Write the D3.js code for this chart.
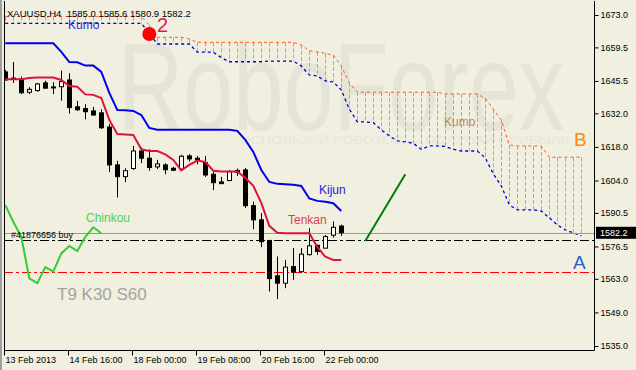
<!DOCTYPE html>
<html><head><meta charset="utf-8">
<script src="https://cdn.jsdelivr.net/npm/d3@7"></script>
<style>html,body{margin:0;padding:0;background:#f0efe0;} svg{display:block}</style>
</head><body><svg id="c" width="636" height="370"></svg>
<script>
// ---------- data ----------
const yTickValues = [1673.0,1659.5,1645.5,1632.0,1618.0,1604.0,1590.5,1576.5,1563.0,1549.0,1535.0];
const xTickIndex = [0,8,16,24,32,40];
const xTickLabels = ["13 Feb 2013","14 Feb 16:00","18 Feb 00:00","19 Feb 08:00","20 Feb 16:00","22 Feb 00:00"];

const open  = [1649.25,1646.7,1646.3,1640.8,1641.5,1644.7,1643.0,1643.1,1645.9,1634.7,1634.0,1633.0,1632.2,1626.3,1610.5,1605.6,1609.0,1616.3,1613.3,1609.7,1610.5,1609.1,1608.8,1614.25,1613.3,1611.5,1606.6,1603.4,1604.0,1608.2,1608.4,1593.5,1587.6,1579.0,1564.25,1561.2,1568.1,1566.0,1573.1,1577.0,1575.8,1581.2,1585.0];
const high  = [1650.1,1653.4,1647.3,1642.9,1644.7,1645.6,1645.0,1649.8,1648.7,1637.2,1635.8,1634.7,1633.7,1627.6,1612.2,1609.1,1618.4,1617.7,1617.0,1612.6,1611.2,1609.7,1614.7,1615.0,1614.25,1614.25,1607.7,1605.5,1608.4,1609.0,1609.25,1595.2,1590.4,1579.25,1572.3,1570.9,1575.8,1575.8,1584.1,1577.2,1581.3,1586.9,1585.6];
const low   = [1645.7,1644.7,1640.0,1640.0,1641.0,1642.3,1640.0,1637.3,1631.9,1633.0,1629.5,1631.0,1625.5,1607.5,1596.9,1603.3,1608.4,1611.2,1608.1,1608.8,1606.6,1607.9,1608.5,1611.9,1610.8,1605.5,1600.0,1602.5,1603.7,1605.9,1592.5,1583.7,1576.2,1557.7,1554.5,1559.1,1562.6,1565.4,1572.7,1573.0,1575.7,1580.2,1580.9];
const close = [1645.9,1646.5,1640.6,1642.0,1644.25,1642.5,1642.8,1645.2,1634.4,1633.5,1632.7,1631.3,1626.0,1610.5,1605.6,1608.1,1616.3,1613.3,1609.4,1610.9,1608.5,1608.3,1614.1,1613.0,1612.5,1606.3,1603.1,1602.7,1607.7,1607.4,1593.5,1587.6,1578.5,1563.1,1561.2,1567.9,1565.8,1573.3,1576.75,1574.4,1580.6,1584.5,1582.2];

const tenkan = [1646.2,1646.2,1646.2,1646.75,1646.9,1646.9,1646.9,1645.9,1643.4,1643.1,1639.9,1639.7,1638.4,1629.25,1623.4,1623.2,1623.0,1617.0,1616.3,1616.3,1614.9,1612.6,1608.2,1610.5,1612.3,1611.75,1608.1,1607.8,1607.8,1607.8,1605.1,1601.75,1594.7,1585.1,1582.2,1582.0,1582.0,1582.0,1582.0,1576.3,1572.2,1570.9,1570.9];
const kijun  = [1661.2,1661.2,1661.2,1661.2,1661.2,1661.2,1661.2,1657.6,1653.4,1653.3,1651.9,1651.9,1649.25,1640.5,1633.4,1633.3,1633.0,1631.3,1625.9,1625.2,1625.2,1625.2,1625.2,1625.2,1625.2,1625.2,1625.2,1625.2,1625.2,1624.7,1620.9,1615.9,1608.4,1603.4,1602.6,1602.4,1602.2,1601.75,1596.5,1595.5,1595.1,1594.5,1591.3];
const chinkou = [1593.75,1586.8,1580.5,1563.2,1561.2,1567.9,1566.0,1573.6,1576.7,1574.6,1580.5,1584.5,1582.0];

const spanUpper = [1672.4,1672.4,1672.4,1672.4,1672.4,1672.4,1672.4,1672.4,1672.4,1672.4,1672.4,1672.4,1672.4,1672.4,1672.4,1672.4,1672.4,1672.4,
  1668.8,1663.7,1663.7,1663.7,1663.7,1663.0,
  1661.6,1661.6,1661.6,1661.6,1661.6,1661.6,1661.6,1661.6,1661.6,1661.6,1661.6,1661.6,1661.6,
  1660.5,1658.1,1657.6,1657.0,1656.3,1651.75,1644.7,
  1640.8,1640.8,1640.8,1640.8,1640.8,1640.8,1640.8,1640.8,1640.8,1640.8,1640.8,
  1640.1,1640.1,1640.1,1640.1,1640.1,
  1638.2,1633.7,1629.25,1618.8,
  1618.4,1618.4,1618.4,1618.4,
  1613.7,1613.7,1613.7,1613.7,1613.7];
const spanLower = [1669.5,1669.5,1669.5,1669.5,1669.5,1669.5,1669.5,1669.5,1669.5,1669.5,1669.5,1669.5,1669.5,1669.5,1669.5,1669.5,1669.5,1669.5,
  1665.5,1660.9,1660.9,1660.9,1660.9,1660.9,
  1657.5,1657.5,1657.5,1655.2,
  1653.5,1653.5,1653.5,1653.5,1653.5,1653.8,1653.8,1653.8,1653.8,
  1651.75,1648.0,1647.6,1645.5,1645.1,1641.75,1633.8,1628.5,1628.4,1628.1,1625.1,1622.6,1620.5,1620.1,1619.5,1617.0,1618.4,1618.4,1618.2,1617.0,1616.3,1616.3,1616.3,1613.4,1606.75,1601.75,1593.8,1591.75,1591.75,1591.75,1591.3,1588.4,1585.5,1583.4,1582.2,1580.9];

const bidPrice = 1582.2;
const orderPrice = 1579.25;
const stopPrice = 1566.0;
const trendLine = [[45, 1578.8],[50, 1606.6]];
const markerPoint = [18, 1665.1];
const header = "XAUUSD,H4  1585.0 1585.6 1580.9 1582.2";

// ---------- layout ----------
const svg = d3.select("#c");
const P = {l:4, r:594, t:1, b:350};
const x = d3.scaleLinear().domain([0,72]).range([5.3, 5.3+8*72]);
const y = d3.scaleLinear().domain([1535,1673]).range([346,15]);
const BG = "#f0efe0";
svg.append("rect").attr("width",636).attr("height",370).attr("fill",BG);

svg.append("defs").append("clipPath").attr("id","clip")
  .append("rect").attr("x",P.l+1).attr("y",P.t+1).attr("width",P.r-P.l-1).attr("height",P.b-P.t-1);
const g = svg.append("g").attr("clip-path","url(#clip)");

// watermark
g.append("text").attr("x",118).attr("y",130).attr("font-family","Liberation Sans, Arial, sans-serif")
  .attr("font-size",125).attr("fill","#e4e4d7")
  .attr("textLength",446).attr("lengthAdjust","spacingAndGlyphs").text("RoboForex");
g.append("text").attr("x",240).attr("y",144).attr("font-family","Liberation Sans, Arial, sans-serif")
  .attr("font-size",11).attr("fill","#e7e7da").attr("textLength",330).attr("lengthAdjust","spacingAndGlyphs")
  .text("ИСПОЛЬЗУЙ РОБОТОВ — ПОЛУЧАЙ ПРИБЫЛЬ");

// kumo hatch
const idx = d3.range(spanUpper.length);
g.append("g").selectAll("line").data(idx).join("line")
  .attr("x1",i=>Math.round(x(i))+0.5).attr("x2",i=>Math.round(x(i))+0.5)
  .attr("y1",i=>y(spanUpper[i])).attr("y2",i=>y(spanLower[i]))
  .attr("stroke","#f2906c").attr("stroke-width",1).attr("stroke-dasharray","4,2");
const lineGen = arr => d3.line().x((d,i)=>x(i)).y(d=>y(d))(arr);
g.append("path").attr("d",lineGen(spanUpper)).attr("fill","none")
  .attr("stroke","#ff5a1e").attr("stroke-width",1).attr("stroke-dasharray","3,3");
g.append("path").attr("d",lineGen(spanLower)).attr("fill","none")
  .attr("stroke","#0000d8").attr("stroke-width",1.3).attr("stroke-dasharray","3,3");

// horizontal levels
g.append("line").attr("x1",P.l).attr("x2",P.r).attr("y1",Math.round(y(bidPrice))+0.5).attr("y2",Math.round(y(bidPrice))+0.5)
  .attr("stroke","#8a9cb0").attr("stroke-width",1);
g.append("line").attr("x1",P.l).attr("x2",P.r).attr("y1",Math.round(y(orderPrice))+0.5).attr("y2",Math.round(y(orderPrice))+0.5)
  .attr("stroke","#000").attr("stroke-width",1).attr("stroke-dasharray","9,3,3,3");
g.append("line").attr("x1",P.l).attr("x2",P.r).attr("y1",Math.round(y(stopPrice))+0.5).attr("y2",Math.round(y(stopPrice))+0.5)
  .attr("stroke","#ff0000").attr("stroke-width",1).attr("stroke-dasharray","9,3,3,3");

// candles
const cg = g.append("g");
const ci = d3.range(open.length);
cg.selectAll("line.w").data(ci).join("line").attr("class","w")
  .attr("x1",i=>Math.round(x(i))+0.5).attr("x2",i=>Math.round(x(i))+0.5)
  .attr("y1",i=>y(high[i])).attr("y2",i=>y(low[i])).attr("stroke","#000").attr("stroke-width",1);
cg.selectAll("rect").data(ci).join("rect")
  .attr("x",i=>Math.round(x(i))-2+0.5).attr("width",4)
  .attr("y",i=>y(Math.max(open[i],close[i])))
  .attr("height",i=>Math.max(1,Math.abs(y(open[i])-y(close[i]))))
  .attr("fill",i=>close[i]>=open[i]?"#fff":"#000").attr("stroke","#000").attr("stroke-width",1);

// indicator lines
g.append("path").attr("d",lineGen(kijun)).attr("fill","none").attr("stroke","#0000f0").attr("stroke-width",2);
g.append("path").attr("d",lineGen(tenkan)).attr("fill","none").attr("stroke","#dc143c").attr("stroke-width",2);
g.append("path").attr("d",lineGen(chinkou)).attr("fill","none").attr("stroke","#32cd32").attr("stroke-width",2);
g.append("line").attr("x1",x(trendLine[0][0])).attr("y1",y(trendLine[0][1]))
  .attr("x2",x(trendLine[1][0])).attr("y2",y(trendLine[1][1])).attr("stroke","#008000").attr("stroke-width",2);

// labels
const F = "Liberation Sans, Arial, sans-serif";
function lab(t,xx,yy,size,color){ g.append("text").attr("x",xx).attr("y",yy).attr("font-family",F).attr("font-size",size).attr("fill",color).text(t); }
lab("Kumo",68,29,12,"#3228d8");
lab("Kumo",444,126,12,"#c8844c");
lab("Kijun",319,194,12,"#1c1ce0");
lab("Tenkan",288,224,12,"#dc3c50");
lab("Chinkou",86,222,12,"#4cd44c");
lab("T9 K30 S60",57,300,17,"#a4a49c");
lab("B",574,146,19,"#ff8c00");
lab("A",573,269,19,"#2262d2");
lab("2",157,32,20,"#dc1e50");
lab("#41876656 buy",11,238,9,"#000");
g.append("circle").attr("cx",x(markerPoint[0])).attr("cy",y(markerPoint[1])).attr("r",7).attr("fill","#ff0000");

// frame
svg.append("path").attr("d",`M${P.l+0.5},${P.t}V${P.b+0.5}H${P.r+0.5}V${P.t}`).attr("fill","none").attr("stroke","#000");
svg.append("rect").attr("x",0).attr("y",0).attr("width",2).attr("height",370).attr("fill","#a0a0a0");

// y axis
const ya = svg.append("g").attr("transform",`translate(${P.r+0.5},0)`)
  .call(d3.axisRight(y).tickValues(yTickValues).tickSize(4).tickPadding(2).tickFormat(d3.format(".1f")));
ya.select(".domain").remove();
ya.selectAll("text").attr("font-family",F).attr("font-size",9).attr("fill","#000");
ya.selectAll("line").attr("stroke","#000");

// x axis
const xa = svg.append("g").attr("transform",`translate(0,${P.b+0.5})`)
  .call(d3.axisBottom(x).tickValues(xTickIndex).tickSize(5).tickFormat((d,i)=>xTickLabels[i]));
xa.select(".domain").remove();
xa.selectAll("text").attr("font-family",F).attr("font-size",9).attr("fill","#000")
  .attr("text-anchor","start").attr("dx",1).attr("dy","0.5em");
xa.selectAll("line").attr("stroke","#000");
xa.selectAll(".tick").attr("transform",d=>`translate(${Math.round(x(d))-0.5},0)`);

// price box
const by = y(bidPrice);
svg.append("rect").attr("x",596).attr("y",by-6).attr("width",40).attr("height",12).attr("fill","#000");
svg.append("text").attr("x",600).attr("y",by+3.5).attr("font-family",F).attr("font-size",9).attr("fill","#fff").text(bidPrice.toFixed(1));

// header
svg.append("text").attr("x",7).attr("y",16.5).attr("font-family",F).attr("font-size",9.5).attr("fill","#000")
  .attr("xml:space","preserve").style("white-space","pre").text(header);
</script></body></html>
